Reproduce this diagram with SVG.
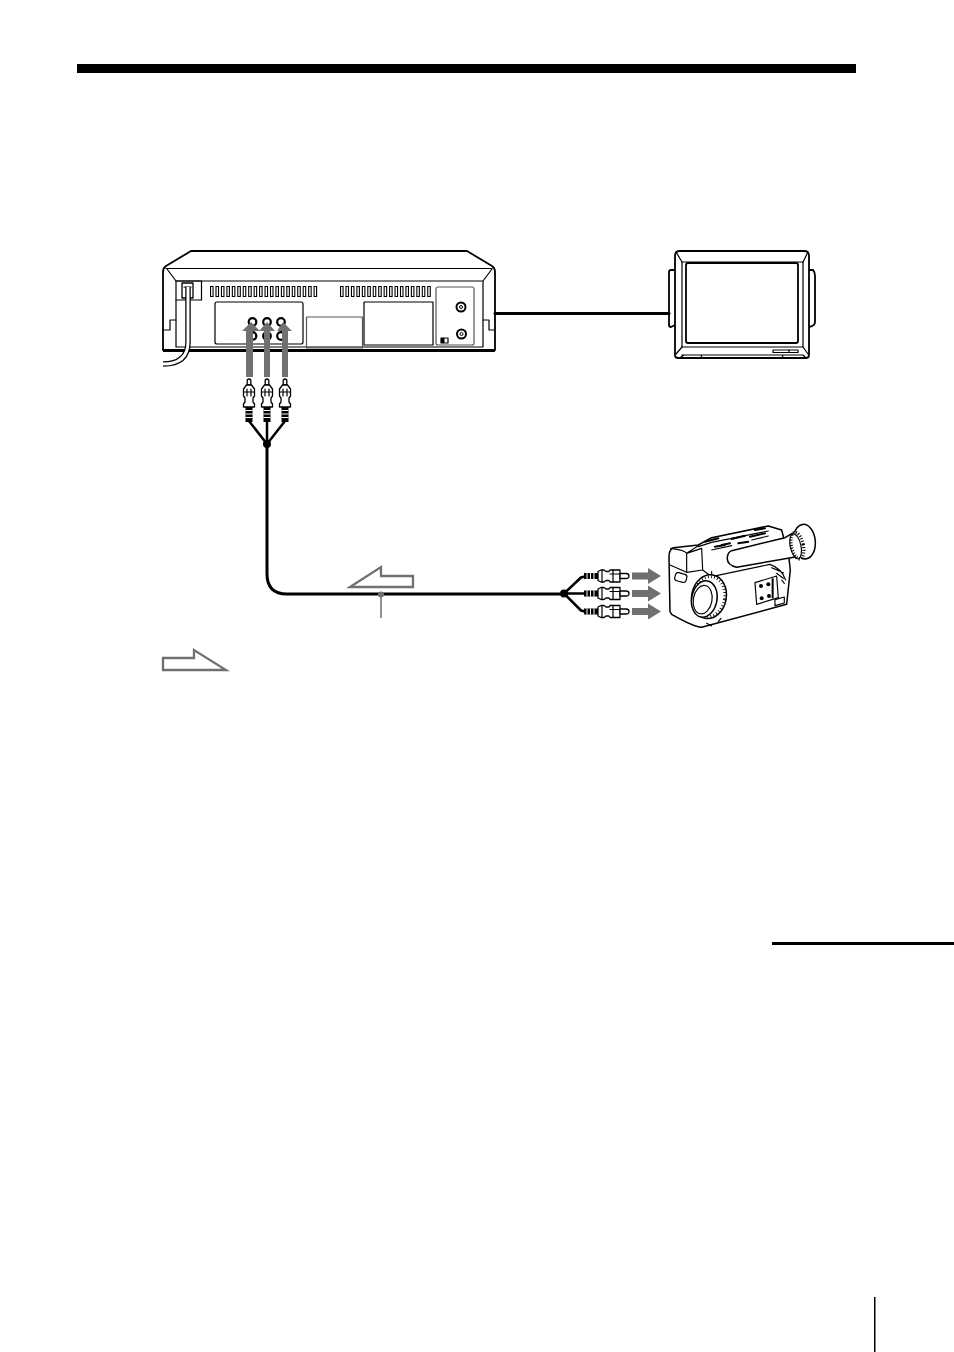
<svg xmlns="http://www.w3.org/2000/svg" width="954" height="1352" viewBox="0 0 954 1352">
<defs>
<style>
.o{fill:#fff;stroke:#000;stroke-width:1.300;stroke-linejoin:round;stroke-linecap:round}
.n{fill:none;stroke:#000;stroke-width:1.200;stroke-linejoin:round;stroke-linecap:round}
.t{fill:none;stroke:#000;stroke-width:1.800;stroke-linejoin:round;stroke-linecap:round}
.c3{fill:none;stroke:#000;stroke-width:3;stroke-linejoin:round;stroke-linecap:round}
.ga{fill:#707070;stroke:none}
.la{fill:#fff;stroke:#707070;stroke-width:2.300;stroke-linejoin:miter}
.z{fill:none;stroke:#000;stroke-width:3.500;stroke-linejoin:round;stroke-linecap:round}
.zo{fill:#fff;stroke:#000;stroke-width:4.500;stroke-linejoin:round;stroke-linecap:round}
</style>
<g id="plugV">
<path class="o" d="M-1.800,1Q0,-1 1.800,1V6H-1.800Z"/>
<path class="o" d="M-2.500,6H2.500L5.500,10V17L4,19V23L5.500,25V28H-5.500V25L-4,23V19L-5.500,17V10Z"/>
<path class="n" d="M-2,10V17M2,10V17M-5.500,13H5.500"/>
<path fill="#000" d="M-3.500,28h7v15h-7z"/>
<path stroke="#fff" stroke-width="1" d="M-3.500,31.500h7M-3.500,35h7M-3.500,38.500h7"/>
</g>
<g id="plugH">
<path fill="#000" d="M0,-3h14v6h-14z"/>
<path stroke="#fff" stroke-width="1" d="M3,-3v6M6.500,-3v6M10,-3v6"/>
<path class="o" d="M14,-4.500L17,-6H20L22,-4.500H25L26,-6H36V6H26L25,4.500H22L20,6H17L14,4.500Z"/>
<path class="n" d="M18,-6V6M29,-6V6M26,-2H36"/>
<path class="o" d="M36,-2.500H42Q45,-2.500 45,0Q45,2.500 42,2.500H36Z"/>
</g>
</defs>
<rect width="954" height="1352" fill="#fff"/>

<g id="page-rules">
<rect x="77" y="64" width="779" height="9" fill="#000"/>
<rect x="772" y="942" width="182" height="3" fill="#000"/>
<rect x="874" y="1297" width="1.500" height="55" fill="#000"/>
</g>

<g id="vcr">
<path class="o" style="stroke-width:1.800" d="M163,272Q163,268 166,266L191,251H467L492,266Q495,268 495,272V350H163Z"/>
<path d="M163,350.500H495" stroke="#000" stroke-width="3"/>
<path class="n" d="M166,268.500H492M167,269L176,281H483L492,269M176,281V347H483V281"/>
<path class="n" d="M176,320H170V330H164M483,320H489V330H494"/>
<path class="n" d="M176,281H201.500V300H176"/>
<rect class="o" x="182" y="283" width="11" height="15"/>
<path class="n" d="M184,287h7"/>
<path d="M188,287V342Q188,364 163,364" fill="none" stroke="#000" stroke-width="5.500"/>
<path d="M188,287V342Q188,364 163,364" fill="none" stroke="#fff" stroke-width="3"/>
<g id="vents">
<path fill="none" stroke="#000" stroke-width="11" stroke-dasharray="3.600 1.850" d="M210,291.500H318M340,291.500H431"/>
<path fill="none" stroke="#fff" stroke-width="9" stroke-dasharray="1.400 4.050" d="M211.100,291.500H318M341.100,291.500H431"/>
</g>
<rect class="n" x="215" y="302" width="88" height="42" rx="2"/>
<rect class="n" x="306.500" y="317" width="56" height="31" style="stroke:#555"/>
<rect class="n" x="364" y="302" width="69" height="43"/>
<rect class="n" x="436" y="287" width="38" height="58" rx="2" style="stroke:#555"/>
<g fill="#fff" stroke="#000"><circle cx="461" cy="307" r="4.500" stroke-width="2"/><circle cx="461" cy="307" r="1.500"/><circle cx="461.500" cy="334" r="4.500" stroke-width="2"/><circle cx="461.500" cy="334" r="1.500"/></g>
<rect class="n" x="441" y="338" width="7" height="5"/><rect x="441" y="338" width="3.500" height="5" fill="#000"/>
<g fill="#fff" stroke="#000" stroke-width="2.200"><circle cx="252.500" cy="322" r="3.800"/><circle cx="267" cy="322" r="3.800"/><circle cx="281" cy="322" r="3.800"/><circle cx="252.500" cy="336" r="3.800"/><circle cx="267" cy="336" r="3.800"/><circle cx="281" cy="336" r="3.800"/></g>
</g>

<g id="tv">
<path class="t" fill="#fff" d="M675,270H671Q669,270 669,272V325Q669,327 671,327L675,325M809,270H813Q815,272 815,276V322Q815,326 809,327"/>
<path class="o" style="stroke-width:1.800" d="M680,251H804Q809,251 809,256V355Q809,358 806,358H678Q675,358 675,355V256Q675,251 680,251Z"/>
<path class="n" d="M682,262H803V347H682Z"/>
<rect class="t" x="686" y="263" width="112" height="80" rx="2"/>
<path class="n" d="M676,252L682,262M808,252L803,262M676,354L682,347M808,354L803,347M681,357L684,355H701L702,358M782,358L783,355H803L806,358M682,355H803"/>
<rect class="n" x="773" y="350" width="25" height="2.500"/>
<path class="n" d="M789,350v2.500"/>
</g>

<g id="camcorder" transform="translate(555 515) scale(.3333)">
<path class="zo" d="M342,125Q342,105 355,98L430,90L470,68L640,33L680,45L702,130L706,165L695,268L440,337Q415,335 350,298L345,290Z"/>
<path class="z" d="M347,100Q390,105 395,115L430,92M395,115V170M395,115L440,100L443,165L395,172M345,150L395,172M443,165L470,185"/>
<path class="z" d="M430,95L470,82L640,48"/>
<rect class="z" x="360" y="175" width="35" height="25" rx="8" transform="rotate(15 377 187)"/>
<path class="z" style="stroke-width:6" d="M450,80l40,-10M500,90l25,-5M530,72l40,-10M585,65l45,-10M480,95l30,-5M550,85l30,-5M600,45l30,-5"/>
<path class="z" d="M470,105l60,-13M590,75l50,-12"/>
<path class="zo" d="M530,107L690,68L712,55L735,125L725,125L545,157Q515,150 517,128Q518,112 530,107Z"/>
<ellipse class="zo" cx="748" cy="80" rx="33" ry="52" transform="rotate(-5 748 80)"/>
<ellipse cx="727" cy="92" rx="18" ry="40" transform="rotate(-12 727 92)" fill="#fff" stroke="#000" stroke-width="10" stroke-dasharray="3 5"/>
<ellipse class="z" cx="722" cy="94" rx="16" ry="38" transform="rotate(-12 722 94)"/>
<path class="z" d="M470,185V170M470,185L645,148M645,148Q680,160 692,195M650,158l35,15M665,175l20,15M680,195l8,10"/>
<path class="z" d="M600,203L665,183L670,248L605,268Z"/>
<path fill="#000" d="M650,190h6v60h-6z"/>
<circle cx="618" cy="213" r="6" fill="#000"/><circle cx="640" cy="208" r="6" fill="#000"/><circle cx="620" cy="250" r="6" fill="#000"/><circle cx="642" cy="243" r="6" fill="#000"/>
<path class="z" d="M660,272l28,-8v-18l-28,8z"/>
<ellipse class="zo" cx="462" cy="245" rx="52" ry="66" transform="rotate(10 462 245)"/>
<ellipse cx="462" cy="245" rx="47" ry="60" transform="rotate(10 462 245)" fill="none" stroke="#000" stroke-width="8" stroke-dasharray="2.500 7"/>
<ellipse class="zo" cx="448" cy="252" rx="38" ry="55" transform="rotate(10 448 252)"/>
<ellipse class="z" cx="443" cy="254" rx="28" ry="43" transform="rotate(10 443 254)"/>
<path class="z" d="M490,320l8,-10M455,325l15,8"/>
</g>

<g id="connectors">
<path class="c3" d="M495,313.500H669"/>
<path class="c3" d="M267,444V574Q267,594 287,594H564"/>
<path fill="none" stroke="#000" stroke-width="2.500" d="M249,421L267,444L285,421M267,421V444"/>
<path fill="none" stroke="#000" stroke-width="2.500" d="M585,576.500L581,577.500L564,593.500L581,610.500L585,611.500M564,593.500H584"/>
<circle cx="267" cy="444" r="4" fill="#000"/>
<circle cx="564" cy="593.500" r="4" fill="#000"/>
</g>

<g id="plugs-vcr">
<use href="#plugV" x="249" y="379"/>
<use href="#plugV" x="267" y="379"/>
<use href="#plugV" x="285" y="379"/>
</g>
<g id="plugs-camera">
<use href="#plugH" x="584" y="576"/>
<use href="#plugH" x="584" y="593.500"/>
<use href="#plugH" x="584" y="611.500"/>
</g>

<g id="signal-arrows">
<path class="ga" d="M246,377V331H242L251,322L260,331H253V377Z"/>
<path class="ga" d="M264,377V331H259L267,322L275,331H270V377Z"/>
<path class="ga" d="M282,377V331H277L283,322L292,331H288V377Z"/>
<path class="ga" d="M632,572.500H648V568L661,576L648,584V579.500H632Z"/>
<path class="ga" d="M632,590H648V585.500L661,593.500L648,601.500V597H632Z"/>
<path class="ga" d="M632,608H648V603.500L661,611.500L648,619.500V615H632Z"/>
</g>

<g id="flow-arrows">
<path class="la" d="M350,587L381,567V576H413V587Z"/>
<path class="la" d="M163,658H194V650L226,670H163Z"/>
<path d="M381,594V618" stroke="#707070" stroke-width="1.500"/>
<circle cx="381" cy="594.500" r="3" fill="#707070"/>
</g>
</svg>
